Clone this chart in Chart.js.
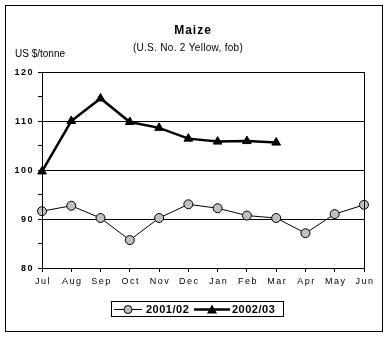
<!DOCTYPE html>
<html>
<head>
<meta charset="utf-8">
<script src="https://cdn.jsdelivr.net/npm/chart.js@4"></script>
<style>
  html, body { margin: 0; padding: 0; background: #fff; }
  #wrap { width: 388px; height: 337px; }
</style>
</head>
<body>
<div id="wrap"><canvas id="chart" width="388" height="337"></canvas></div>
<script>
// chart data
const months = ["Jul", "Aug", "Sep", "Oct", "Nov", "Dec", "Jan", "Feb", "Mar", "Apr", "May", "Jun"];
const season2001 = [91.6, 92.7, 90.2, 85.7, 90.2, 93.0, 92.2, 90.7, 90.2, 87.1, 91.0, 92.9];
const season2002 = [99.7, 110.0, 114.6, 109.8, 108.6, 106.4, 105.8, 105.9, 105.6];
const seriesNames = ["2001/02", "2002/03"];
const yLabels = [80, 90, 100, 110, 120];
const titleText = "Maize";
const subtitleText = "(U.S. No. 2 Yellow, fob)";
const unitText = "US $/tonne";

const FONT = "'Liberation Sans', Arial, sans-serif";

// frame, titles, plot border, spaced axis labels and the boxed legend
const decorations = {
  id: "decorations",
  beforeDraw(chart) {
    const ctx = chart.ctx;
    ctx.save();
    ctx.fillStyle = "#fff";
    ctx.fillRect(0, 0, chart.width, chart.height);
    ctx.restore();
  },
  afterDraw(chart) {
    const ctx = chart.ctx;
    const area = chart.chartArea;
    const xScale = chart.scales.x;
    const yScale = chart.scales.y;
    ctx.save();

    // outer frame
    ctx.strokeStyle = "#000";
    ctx.lineWidth = 1;
    ctx.strokeRect(5.5, 5.5, 377, 326);

    // plot border
    ctx.strokeRect(Math.round(area.left) + 0.5, Math.round(area.top) + 0.5,
      Math.round(area.right - area.left), Math.round(area.bottom - area.top));

    // titles
    ctx.fillStyle = "#000";
    ctx.textAlign = "center";
    ctx.textBaseline = "middle";
    ctx.letterSpacing = "1px";
    ctx.font = "bold 12px " + FONT;
    ctx.fillText(titleText, 193, 31);
    ctx.letterSpacing = "0.3px";
    ctx.font = "10px " + FONT;
    ctx.fillText(subtitleText, 188, 48);
    ctx.textAlign = "left";
    ctx.letterSpacing = "0px";
    ctx.fillText(unitText, 15, 54);

    // value labels
    ctx.textAlign = "right";
    ctx.letterSpacing = "1.5px";
    ctx.font = "bold 9px " + FONT;
    yLabels.forEach((v) => {
      ctx.fillText(String(v), area.left - 8, yScale.getPixelForValue(v) + 0.5);
    });

    // month labels
    ctx.textAlign = "center";
    ctx.letterSpacing = "1.5px";
    ctx.font = "9px " + FONT;
    months.forEach((m, i) => {
      ctx.fillText(m, xScale.getPixelForValue(i) + 1, area.bottom + 14);
    });

    // legend
    ctx.letterSpacing = "0.5px";
    ctx.strokeRect(111.5, 301.5, 172, 15);
    ctx.textAlign = "left";
    ctx.font = "bold 11px " + FONT;
    const ly = 309.5;
    ctx.beginPath();
    ctx.lineWidth = 1;
    ctx.moveTo(114, ly);
    ctx.lineTo(142, ly);
    ctx.stroke();
    ctx.beginPath();
    ctx.arc(128, ly, 4, 0, Math.PI * 2);
    ctx.fillStyle = "#c0c0c0";
    ctx.fill();
    ctx.stroke();
    ctx.fillStyle = "#000";
    ctx.fillText(seriesNames[0], 146, ly + 0.5);

    ctx.beginPath();
    ctx.lineWidth = 2.5;
    ctx.moveTo(194, ly);
    ctx.lineTo(230, ly);
    ctx.stroke();
    ctx.beginPath();
    ctx.moveTo(212, ly - 5);
    ctx.lineTo(217, ly + 4);
    ctx.lineTo(207, ly + 4);
    ctx.closePath();
    ctx.fill();
    ctx.fillText(seriesNames[1], 232, ly + 0.5);

    ctx.restore();
  }
};

const ctx = document.getElementById("chart").getContext("2d");
new Chart(ctx, {
  type: "line",
  data: {
    labels: months,
    datasets: [
      {
        label: seriesNames[0],
        data: season2001,
        borderColor: "#000",
        borderWidth: 1,
        pointStyle: "circle",
        pointRadius: 4.5,
        pointBackgroundColor: "#c0c0c0",
        pointBorderColor: "#000",
        pointBorderWidth: 1,
        tension: 0
      },
      {
        label: seriesNames[1],
        data: season2002,
        borderColor: "#000",
        borderWidth: 2.5,
        pointStyle: "triangle",
        pointRadius: 5,
        pointBackgroundColor: "#000",
        pointBorderColor: "#000",
        pointBorderWidth: 1,
        tension: 0
      }
    ]
  },
  options: {
    responsive: false,
    animation: false,
    events: [],
    layout: { padding: { top: 72, left: 12, right: 24, bottom: 49 } },
    plugins: {
      legend: { display: false },
      title: { display: false },
      tooltip: { enabled: false }
    },
    scales: {
      x: {
        offset: false,
        afterFit: (scale) => { scale.height = 20; },
        grid: {
          drawOnChartArea: false,
          drawTicks: true,
          tickLength: 4,
          color: "#000",
          tickColor: "#000"
        },
        border: { color: "#000", width: 1 },
        ticks: { display: false }
      },
      y: {
        min: 80,
        max: 120,
        afterFit: (scale) => { scale.width = 30; },
        ticks: {
          display: false,
          stepSize: 5
        },
        grid: {
          tickLength: 4,
          tickColor: "#000",
          color: (c) => (c.tick && c.tick.value % 10 === 0 ? "#000" : "rgba(0,0,0,0)")
        },
        border: { color: "#000", width: 1 }
      }
    }
  },
  plugins: [decorations]
});
</script>
</body>
</html>
